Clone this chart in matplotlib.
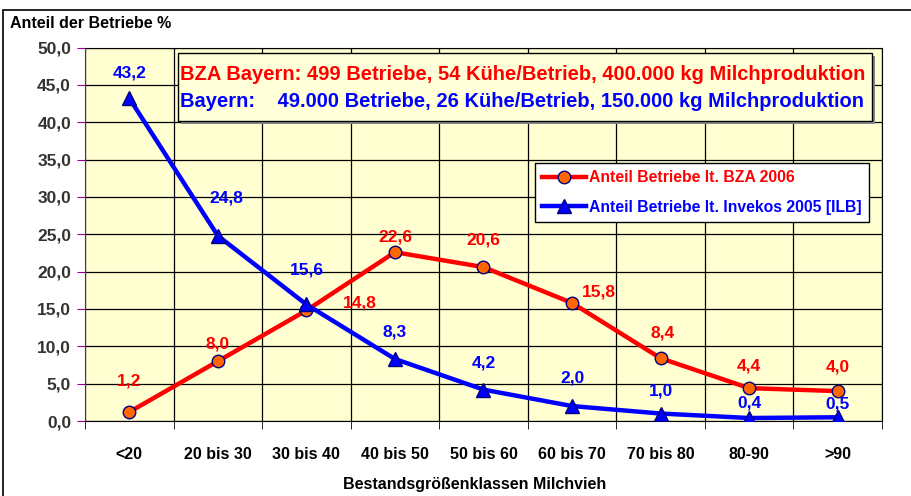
import matplotlib
matplotlib.use("Agg")
import matplotlib.pyplot as plt
from matplotlib.patches import Rectangle

################################################################################
# Data.                                                                        #
################################################################################

categories = ["<20", "20 bis 30", "30 bis 40", "40 bis 50", "50 bis 60",
              "60 bis 70", "70 bis 80", "80-90", ">90"]
bza_2006 = [1.2, 8.0, 14.8, 22.6, 20.6, 15.8, 8.4, 4.4, 4.0]
invekos_2005 = [43.2, 24.8, 15.6, 8.3, 4.2, 2.0, 1.0, 0.4, 0.5]

# label offsets in pixels (dx, dy) relative to the point
bza_offsets = [(0, 31), (0, 17), (53, 7), (0, 15), (0, 27), (27, 11), (2, 25), (0, 22), (0, 24)]
inv_offsets = [(0, 25), (8, 38), (0, 34), (0, 27), (0, 27), (0, 28), (0, 23), (0, 15), (0, 13)]

def fmt(v):
    return ("%.1f" % v).replace(".", ",")

################################################################################
# Plot.                                                                        #
################################################################################

plt.rcParams['font.family'] = ['Liberation Sans', 'DejaVu Sans']
plt.rcParams['font.weight'] = 'bold'

W, H = 912, 496
fig = plt.figure(figsize=(W / 100, H / 100), dpi=100)
fig.patch.set_facecolor('white')

# outer chart frame
fig.add_artist(Rectangle((3 / W, -0.1), 1.2, 1 - 10 / H + 0.1, transform=fig.transFigure,
                         fill=False, ec='black', lw=1.2))

left, right, top, bottom = 85, 882, 47.5, 421
ax = fig.add_axes([left / W, 1 - bottom / H, (right - left) / W, (bottom - top) / H])
ax.set_facecolor('#FFFFD2')

x = list(range(len(categories)))

ax.plot(x, bza_2006, '-', color='#FF0000', lw=3.2, marker='o', ms=9,
        mfc='#FF6600', mec='#000080', mew=1, zorder=4, label='Anteil Betriebe lt. BZA 2006')
ax.plot(x, invekos_2005, '-', color='#0000FF', lw=3.2, marker='^', ms=10,
        mfc='#0000FF', mec='#000080', mew=1, zorder=5, label='Anteil Betriebe lt. Invekos 2005 [ILB]')

for xi, v, off in zip(x, bza_2006, bza_offsets):
    ax.annotate(fmt(v), (xi, v), xytext=off, textcoords='offset pixels', ha='center',
                va='center', color='#FF0000', fontsize=12.5, fontweight='bold', zorder=6)
for xi, v, off in zip(x, invekos_2005, inv_offsets):
    ax.annotate(fmt(v), (xi, v), xytext=off, textcoords='offset pixels', ha='center',
                va='center', color='#0000FF', fontsize=12.5, fontweight='bold', zorder=6)

# Axes.
ax.set_xlim(-0.5, len(categories) - 0.5)
ax.set_ylim(0, 50)
ax.set_yticks([i * 5 for i in range(11)])
ax.set_yticklabels([fmt(i * 5) for i in range(11)])
ax.set_xticks(x)
ax.set_xticklabels(categories)
ax.set_xticks([i - 0.5 for i in range(len(categories) + 1)], minor=True)
ax.tick_params(axis='x', which='major', length=0, pad=19, labelsize=11.5, labelcolor='black')
ax.tick_params(axis='x', which='minor', length=6, color='black', direction='out')
ax.tick_params(axis='y', length=6, color='#990099', labelsize=12.5, labelcolor='#333333', pad=4)
for lab in ax.get_xticklabels() + ax.get_yticklabels():
    lab.set_fontweight('bold')

ax.grid(True, axis='y', which='major', color='black', lw=0.9)
ax.grid(True, axis='x', which='minor', color='black', lw=0.9)
ax.set_axisbelow(True)
ax.spines['left'].set_color('#990099')
for s in ['top', 'right', 'bottom']:
    ax.spines[s].set_color('black')

fig.text(10 / W, 1 - 24 / H, 'Anteil der Betriebe %', fontsize=11.5,
         fontweight='bold', ha='left', va='center')
fig.text(475 / W, 1 - 484 / H, 'Bestandsgrößenklassen Milchvieh', fontsize=11.5,
         fontweight='bold', ha='center', va='center')

# info box
bx0, bx1, by0, by1 = (178 - left) / (right - left), (872 - left) / (right - left), \
    (bottom - 121) / (bottom - top), (bottom - 53) / (bottom - top)
ax.add_patch(Rectangle((bx0 + 0.004, by0 - 0.008), bx1 - bx0, by1 - by0, transform=ax.transAxes,
                       fc='#888888', ec='none', zorder=7))
ax.add_patch(Rectangle((bx0, by0), bx1 - bx0, by1 - by0, transform=ax.transAxes,
                       fc='#FFFFD8', ec='black', lw=1, zorder=8))
ax.text(bx0 + 0.003, by0 + 0.68 * (by1 - by0),
        'BZA Bayern: 499 Betriebe, 54 Kühe/Betrieb, 400.000 kg Milchproduktion',
        transform=ax.transAxes, color='#FF0000', fontsize=14.5, fontweight='bold',
        ha='left', va='center', zorder=9)
ax.text(bx0 + 0.003, by0 + 0.28 * (by1 - by0),
        'Bayern:    49.000 Betriebe, 26 Kühe/Betrieb, 150.000 kg Milchproduktion',
        transform=ax.transAxes, color='#0000FF', fontsize=14.5, fontweight='bold',
        ha='left', va='center', zorder=9)

leg = ax.legend(loc='upper right', bbox_to_anchor=((869 - left) / (right - left), (bottom - 163) / (bottom - top)),
                frameon=True, fancybox=False, edgecolor='black', framealpha=1, facecolor='white',
                fontsize=11.3, handlelength=2.8, borderpad=0.45, labelspacing=0.95, handletextpad=0.2,
                borderaxespad=0)
leg.get_frame().set_linewidth(1)
leg.set_zorder(10)
for t, c in zip(leg.get_texts(), ['#FF0000', '#0000FF']):
    t.set_color(c)
    t.set_fontweight('bold')

fig.savefig("out.png", dpi=100)
plt.close()
